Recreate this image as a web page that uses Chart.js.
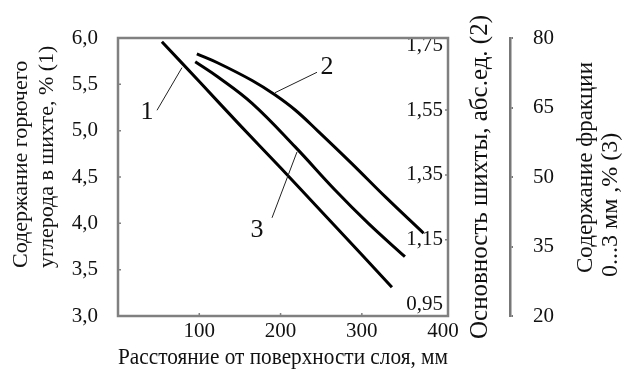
<!DOCTYPE html>
<html>
<head>
<meta charset="utf-8">
<script src="https://cdn.jsdelivr.net/npm/chart.js@4.4.1/dist/chart.umd.min.js"></script>
<style>
  html, body { margin: 0; padding: 0; background: #fff; }
  #chart { display: block; }
</style>
</head>
<body>
<canvas id="chart" width="624" height="372"></canvas>
<script>
// curve 1: combustible carbon in the charge, %
var distCarbon = [54, 100, 150, 200, 250, 300, 337];
var carbon = [5.96, 5.53, 5.06, 4.6, 4.13, 3.66, 3.31];
// curve 2: charge basicity
var distBasicity = [97, 123, 165, 193, 218, 246, 288, 329, 376];
var basicity = [1.723, 1.695, 1.641, 1.597, 1.55, 1.485, 1.384, 1.282, 1.17];
// curve 3: 0...3 mm fraction, %
var distFraction = [95, 123, 165, 218, 267, 308, 353];
var fraction = [74.9, 71.6, 65.9, 56.5, 47.2, 40.0, 32.8];

var xTicks = [100, 200, 300, 400];
var basicityTicks = [0.95, 1.15, 1.35, 1.55, 1.75];

var serif = "'Liberation Serif', 'Times New Roman', serif";
var ink = "#111";
var frame = "#808080";

function toPoints(xs, ys) {
  return xs.map(function (x, i) {
    return { x: x, y: ys[i] };
  });
}
function comma(v, d) {
  return v.toFixed(d).replace(".", ",");
}

// numbered callouts, in x / left-axis units
var callouts = [
  { text: "1", at: [35.7, 5.2], from: [48, 5.22], to: [78.7, 5.68] },
  { text: "2", at: [257, 5.69], from: [244.8, 5.63], to: [193.2, 5.41] },
  { text: "3", at: [171, 3.93], from: [189.5, 4.06], to: [220.2, 4.77] },
];

function vText(ctx, text, x, y, align) {
  ctx.save();
  ctx.translate(x, y);
  ctx.rotate(-Math.PI / 2);
  ctx.textAlign = align;
  ctx.textBaseline = "middle";
  ctx.fillText(text, 0, 0);
  ctx.restore();
}

var framePlugin = {
  id: "framePlugin",
  beforeDatasetsDraw: function (chart) {
    var ctx = chart.ctx;
    var ca = chart.chartArea;
    var s = chart.scales;
    ctx.save();
    ctx.strokeStyle = frame;
    ctx.lineWidth = 2.5;
    ctx.strokeRect(ca.left, ca.top, ca.right - ca.left, ca.bottom - ca.top);
    // small inner ticks
    ctx.lineWidth = 1.5;
    ctx.beginPath();
    [3.5, 4, 4.5, 5, 5.5].forEach(function (v) {
      var py = s.y.getPixelForValue(v);
      ctx.moveTo(ca.left, py);
      ctx.lineTo(ca.left + 3, py);
    });
    [1.15, 1.35, 1.55].forEach(function (v) {
      var py = s.y2.getPixelForValue(v);
      ctx.moveTo(ca.right, py);
      ctx.lineTo(ca.right - 3, py);
    });
    [100, 200, 300].forEach(function (v) {
      var px = s.x.getPixelForValue(v);
      ctx.moveTo(px, ca.bottom);
      ctx.lineTo(px, ca.bottom - 3);
    });
    ctx.stroke();
    ctx.restore();
  },
  afterDatasetsDraw: function (chart) {
    var ctx = chart.ctx;
    var ca = chart.chartArea;
    var s = chart.scales;
    ctx.save();
    ctx.fillStyle = ink;
    ctx.font = "22px " + serif;
    vText(ctx, "Содержание горючего", s.y.left + 21, ca.bottom - 48, "left");
    vText(ctx, "углерода в шихте, % (1)", s.y.left + 47, ca.bottom - 48, "left");
    ctx.font = "25px " + serif;
    vText(ctx, "Основность шихты, абс.ед. (2)", s.y2.left + 32, (ca.top + ca.bottom) / 2, "center");
    ctx.font = "23px " + serif;
    vText(ctx, "Содержание фракции", s.y3.left + 76, ca.bottom - 43, "left");
    ctx.font = "24px " + serif;
    vText(ctx, "0...3 мм ,% (3)", s.y3.left + 101, ca.bottom - 39, "left");

    // callouts
    ctx.strokeStyle = "#222";
    ctx.lineWidth = 1;
    ctx.font = "26px " + serif;
    ctx.textAlign = "center";
    ctx.textBaseline = "middle";
    callouts.forEach(function (c) {
      ctx.beginPath();
      ctx.moveTo(s.x.getPixelForValue(c.from[0]), s.y.getPixelForValue(c.from[1]));
      ctx.lineTo(s.x.getPixelForValue(c.to[0]), s.y.getPixelForValue(c.to[1]));
      ctx.stroke();
      ctx.fillText(c.text, s.x.getPixelForValue(c.at[0]), s.y.getPixelForValue(c.at[1]));
    });
    ctx.restore();
  },
};

var lineStyle = {
  borderColor: "#000",
  backgroundColor: "#000",
  borderWidth: 3,
  pointRadius: 0,
  fill: false,
  tension: 0.4,
};

var ctx = document.getElementById("chart");
var myChart = new Chart(ctx, {
  type: "line",
  data: {
    datasets: [
      Object.assign({ label: "1", data: toPoints(distCarbon, carbon), yAxisID: "y" }, lineStyle),
      Object.assign({ label: "2", data: toPoints(distBasicity, basicity), yAxisID: "y2" }, lineStyle),
      Object.assign({ label: "3", data: toPoints(distFraction, fraction), yAxisID: "y3" }, lineStyle),
    ],
  },
  options: {
    responsive: false,
    animation: false,
    devicePixelRatio: 1,
    layout: { padding: { top: 38, left: 0, right: 0, bottom: 0 } },
    scales: {
      x: {
        type: "linear",
        min: 0,
        max: 406,
        afterBuildTicks: function (axis) {
          axis.ticks = xTicks.map(function (v) { return { value: v }; });
        },
        afterFit: function (axis) { axis.height = 56; },
        grid: { display: false, drawTicks: false },
        border: { display: false },
        ticks: { color: ink, font: { family: serif, size: 21 }, padding: 3, maxRotation: 0 },
        title: {
          display: true,
          text: "Расстояние от поверхности слоя, мм",
          color: ink,
          font: { family: serif, size: 24 },
          padding: { top: 0, bottom: 0 },
        },
      },
      y: {
        position: "left",
        min: 3,
        max: 6,
        afterFit: function (axis) { axis.width = 118; },
        grid: { display: false, drawTicks: false },
        border: { display: false },
        ticks: {
          stepSize: 0.5,
          color: ink,
          padding: 20,
          font: { family: serif, size: 21 },
          callback: function (v) { return comma(v, 1); },
        },
      },
      y2: {
        position: "right",
        min: 0.915,
        max: 1.772,
        afterBuildTicks: function (axis) {
          axis.ticks = basicityTicks.map(function (v) { return { value: v }; });
        },
        afterFit: function (axis) { axis.width = 62; },
        grid: { display: false, drawTicks: false },
        border: { display: false },
        ticks: {
          mirror: true,
          color: ink,
          padding: -5,
          font: { family: serif, size: 21 },
          callback: function (v) { return comma(v, 2); },
        },
      },
      y3: {
        position: "right",
        min: 20,
        max: 80,
        afterFit: function (axis) { axis.width = 114; },
        grid: { display: true, drawOnChartArea: false, drawTicks: true, tickLength: 3, color: "#777", lineWidth: 2 },
        border: { display: true, color: "#777", width: 2.5 },
        ticks: {
          stepSize: 15,
          color: ink,
          padding: 20,
          font: { family: serif, size: 21 },
        },
      },
    },
    plugins: {
      legend: { display: false },
      tooltip: { enabled: false },
    },
  },
  plugins: [framePlugin],
});
</script>
</body>
</html>
